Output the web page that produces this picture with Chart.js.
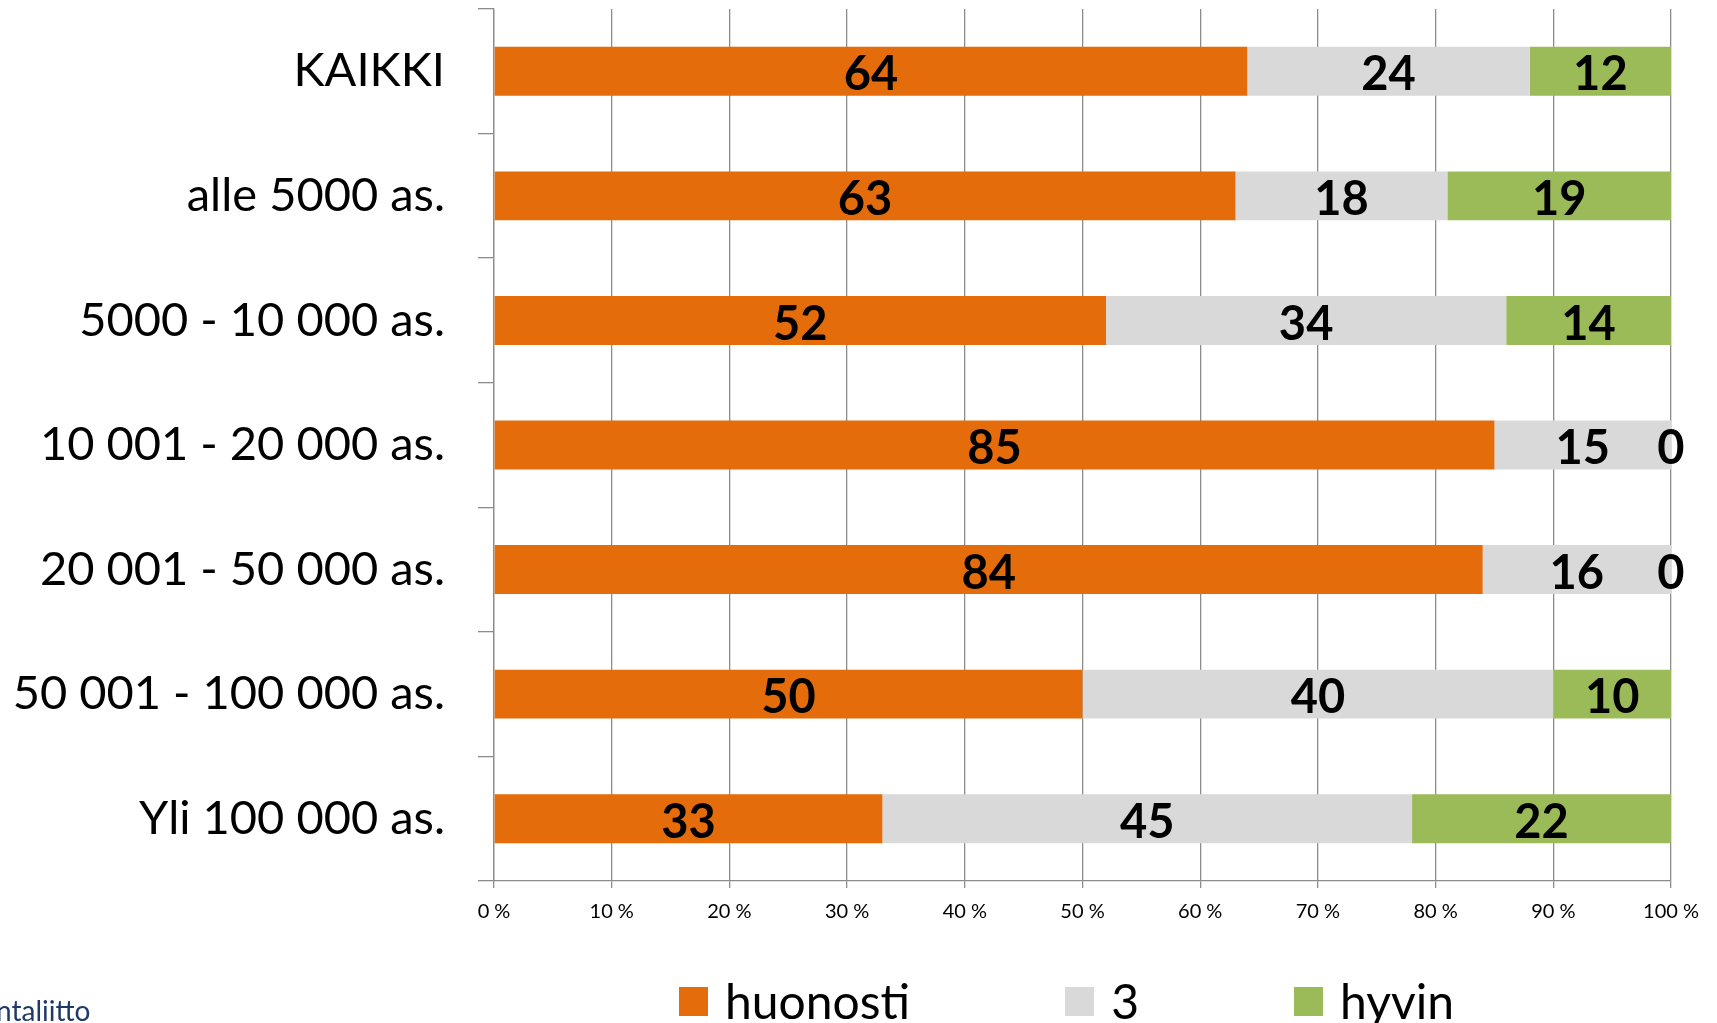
<!DOCTYPE html>
<html lang="fi">
<head>
<meta charset="utf-8">
<title>huonosti / 3 / hyvin</title>
<script src="https://cdn.jsdelivr.net/npm/chart.js@4.4.1/dist/chart.umd.min.js"></script>
<style>
    html, body {
        margin: 0;
        padding: 0;
        background: #fff;
        overflow: hidden;
    }
    #wrap {
        position: relative;
        width: 1717px;
        height: 1023px;
    }
    #legend {
        position: absolute;
        left: 679px;
        top: 972px;
        display: flex;
        gap: 155px;
        font-family: Lato, sans-serif;
        font-size: 48px;
        line-height: 58px;
        color: #000;
        white-space: nowrap;
    }
    #legend .item {
        display: flex;
        align-items: center;
    }
    #legend .box {
        width: 29px;
        height: 29px;
        margin-right: 17px;
    }
    #logo {
        position: absolute;
        left: -4px;
        top: 995px;
        font-family: Lato, sans-serif;
        font-size: 28px;
        line-height: 30px;
        color: #1f3a68;
    }
</style>
</head>
<body>
<div id="wrap">
    <canvas id="barChart" width="1717" height="1023"></canvas>
    <div id="legend"></div>
    <div id="logo">ntaliitto</div>
</div>
<script>
// Chart data (percent shares per size group)
const categories = [
    'KAIKKI',
    'alle 5000 as.',
    '5000 - 10 000 as.',
    '10 001 - 20 000 as.',
    '20 001 - 50 000 as.',
    '50 001 - 100 000 as.',
    'Yli 100 000 as.'
];
const seriesNames = ['huonosti', '3', 'hyvin'];
const huonostiValues = [64, 63, 52, 85, 84, 50, 33];
const middleValues = [24, 18, 34, 15, 16, 40, 45];
const hyvinValues = [12, 19, 14, 0, 0, 10, 22];
const xTickLabels = ['0 %', '10 %', '20 %', '30 %', '40 %', '50 %', '60 %', '70 %', '80 %', '90 %', '100 %'];

const seriesColors = ['#E46C0A', '#D9D9D9', '#9BBB59'];
const gridColor = '#8c8c8c';

// Draws the value of every segment in the middle of its bar
const valueLabels = {
    id: 'valueLabels',
    afterDatasetsDraw(chart) {
        const ctx = chart.ctx;
        ctx.save();
        ctx.font = 'bold 47px Lato';
        ctx.fillStyle = '#000';
        ctx.textAlign = 'center';
        ctx.textBaseline = 'middle';
        chart.data.datasets.forEach((ds, i) => {
            const meta = chart.getDatasetMeta(i);
            meta.data.forEach((bar, j) => {
                const p = bar.getCenterPoint();
                ctx.fillText(ds.data[j], p.x, p.y + 4);
            });
        });
        ctx.restore();
    }
};

function buildDatasets() {
    const values = [huonostiValues, middleValues, hyvinValues];
    return seriesNames.map((name, i) => ({
        label: name,
        data: values[i],
        backgroundColor: seriesColors[i],
        borderWidth: 0,
        categoryPercentage: 1,
        barPercentage: 0.393
    }));
}

// Simple html legend, built from the datasets
function buildLegend(chart) {
    const legend = document.getElementById('legend');
    chart.data.datasets.forEach(ds => {
        const item = document.createElement('div');
        item.className = 'item';
        const box = document.createElement('span');
        box.className = 'box';
        box.style.background = ds.backgroundColor;
        const text = document.createElement('span');
        text.textContent = ds.label;
        item.appendChild(box);
        item.appendChild(text);
        legend.appendChild(item);
    });
}

const chart = new Chart(document.getElementById('barChart'), {
    type: 'bar',
    data: {
        labels: categories,
        datasets: buildDatasets()
    },
    plugins: [valueLabels],
    options: {
        indexAxis: 'y',
        responsive: false,
        animation: false,
        layout: {
            padding: { left: 0, right: 46, top: 9, bottom: 0 }
        },
        plugins: {
            legend: { display: false },
            tooltip: { enabled: false }
        },
        scales: {
            x: {
                stacked: true,
                min: 0,
                max: 100,
                ticks: {
                    stepSize: 10,
                    autoSkip: false,
                    maxRotation: 0,
                    padding: 12,
                    color: '#000',
                    font: { family: 'Lato', size: 20 },
                    callback: (value, index) => xTickLabels[index]
                },
                grid: {
                    color: gridColor,
                    lineWidth: 1.3,
                    tickLength: 7
                },
                border: { color: gridColor, width: 1.3 },
                afterFit(scale) {
                    scale.height = 142;
                    scale.paddingLeft = 0;
                    scale.paddingRight = 0;
                }
            },
            y: {
                stacked: true,
                ticks: {
                    padding: 33,
                    color: '#000',
                    font: { family: 'Lato', size: 47 }
                },
                grid: {
                    offset: true,
                    drawOnChartArea: false,
                    color: gridColor,
                    lineWidth: 1.3,
                    tickLength: 16
                },
                border: { color: gridColor, width: 1.3 },
                afterFit(scale) {
                    scale.width = 494;
                    scale.paddingTop = 0;
                    scale.paddingBottom = 0;
                }
            }
        }
    }
});

buildLegend(chart);
</script>
</body>
</html>
